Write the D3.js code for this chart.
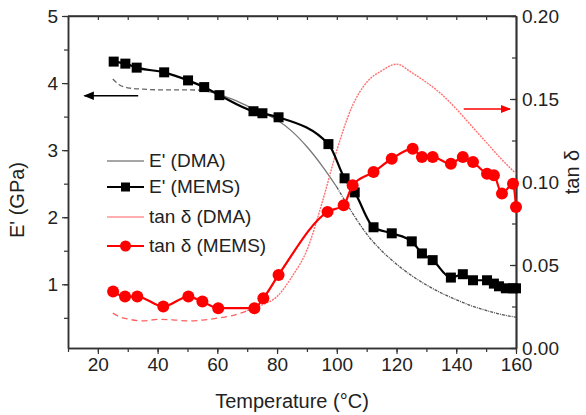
<!DOCTYPE html>
<html>
<head>
<meta charset="utf-8">
<script src="https://cdn.jsdelivr.net/npm/d3@7"></script>
<style>
  body { margin: 0; background: #fff; }
  text { font-family: "Liberation Sans", Arial, sans-serif; fill: #222; }
</style>
</head>
<body>
<div id="chart"></div>
<script>
// E' (MEMS), left axis, GPa
var memsT = [25.3, 29.2, 33.0, 42.2, 50.2, 55.6, 60.7, 72.1, 75.1, 80.5, 97.2, 102.6, 106.0,
             112.3, 118.4, 125.1, 128.5, 132.1, 138.2, 142.2, 145.6, 150.3, 152.6, 154.3, 156.6, 159.0, 160.0];
var memsE = [4.32, 4.29, 4.23, 4.16, 4.04, 3.94, 3.82, 3.58, 3.55, 3.49, 3.09, 2.58, 2.37,
             1.85, 1.76, 1.64, 1.46, 1.36, 1.10, 1.15, 1.06, 1.06, 1.01, 0.97, 0.94, 0.94, 0.94];

// tan delta (MEMS), right axis
var memsTanT = [25.1, 29.1, 33.2, 41.9, 50.3, 55.0, 60.3, 72.4, 75.4, 80.5, 96.9, 102.3, 105.3,
                112.3, 118.4, 125.4, 128.5, 132.1, 138.2, 142.2, 145.6, 150.3, 152.6, 155.3, 159.0, 160.0];
var memsTan = [0.034, 0.031, 0.031, 0.025, 0.031, 0.028, 0.024, 0.024, 0.030, 0.044, 0.082, 0.086, 0.098,
               0.106, 0.114, 0.120, 0.115, 0.115, 0.111, 0.115, 0.112, 0.105, 0.104, 0.093, 0.099, 0.085];

// DMA curves
var dmaT = [25, 27, 30, 35, 40, 45, 50, 55, 60, 65, 70, 75, 80, 85, 90, 95, 100,
            105, 110, 115, 120, 125, 130, 135, 140, 145, 150, 155, 160];
var dmaE = [4.06, 3.98, 3.93, 3.91, 3.90, 3.90, 3.90, 3.89, 3.84, 3.76, 3.66, 3.56, 3.45, 3.28, 3.05, 2.77, 2.45,
            2.08, 1.75, 1.50, 1.30, 1.13, 0.99, 0.87, 0.77, 0.68, 0.61, 0.55, 0.51];
var dmaTan = [0.021, 0.019, 0.0175, 0.0163, 0.0172, 0.0170, 0.0163, 0.0168, 0.0180, 0.0195, 0.0225, 0.026, 0.031,
              0.043, 0.059, 0.087, 0.119, 0.145, 0.160, 0.167, 0.171, 0.166, 0.160, 0.153, 0.144, 0.134,
              0.124, 0.114, 0.105];

var xTicks = [20, 40, 60, 80, 100, 120, 140, 160];
var yLeftTicks = [1, 2, 3, 4, 5];
var yRightTicks = [0, 0.05, 0.10, 0.15, 0.20];

var width = 586, height = 415;
var L = 68, R = 516, T = 16, B = 348;

var svg = d3.select("#chart").append("svg")
    .attr("width", width)
    .attr("height", height);

var x = d3.scaleLinear().domain([10, 160]).range([L, R]);
var yL = d3.scaleLinear().domain([0.05, 5]).range([B, T]);
var yR = d3.scaleLinear().domain([0, 0.2]).range([B, T]);

var zip = function(a, b) { return a.map(function(v, i) { return [v, b[i]]; }); };

// axes
function styleAxis(g) {
  g.select(".domain").attr("stroke", "#333").attr("stroke-width", 1.5);
  g.selectAll(".tick line").attr("stroke", "#333").attr("stroke-width", 1.2);
  g.selectAll("text").style("font-size", "19px").attr("fill", "#222");
}

// minor ticks first (no labels)
svg.append("g").attr("transform", "translate(0," + B + ")")
    .call(d3.axisBottom(x).tickValues(d3.range(10, 161, 10)).tickSize(4).tickFormat("").tickSizeOuter(0))
    .call(styleAxis);
svg.append("g").attr("transform", "translate(0," + T + ")")
    .call(d3.axisBottom(x).tickValues(d3.range(10, 161, 10)).tickSize(4).tickFormat("").tickSizeOuter(0))
    .call(styleAxis);
svg.append("g").attr("transform", "translate(" + L + ",0)")
    .call(d3.axisLeft(yL).tickValues(d3.range(0.5, 5.01, 0.5)).tickSize(4).tickFormat("").tickSizeOuter(0))
    .call(styleAxis);
svg.append("g").attr("transform", "translate(" + R + ",0)")
    .call(d3.axisLeft(yR).tickValues(d3.range(0, 0.201, 0.025)).tickSize(4).tickFormat("").tickSizeOuter(0))
    .call(styleAxis);

// major ticks with labels
svg.append("g").attr("transform", "translate(0," + B + ")")
    .call(d3.axisBottom(x).tickValues(xTicks).tickSize(6).tickPadding(4).tickSizeOuter(0))
    .call(styleAxis);
svg.append("g").attr("transform", "translate(" + L + ",0)")
    .call(d3.axisLeft(yL).tickValues(yLeftTicks).tickFormat(d3.format("d")).tickSize(6).tickPadding(4).tickSizeOuter(0))
    .call(styleAxis);
svg.append("g").attr("transform", "translate(" + R + ",0)")
    .call(d3.axisRight(yR).tickValues(yRightTicks).tickFormat(d3.format(".2f")).tickSize(0).tickPadding(6).tickSizeOuter(0))
    .call(styleAxis);
svg.append("g").attr("transform", "translate(" + R + ",0)")
    .call(d3.axisLeft(yR).tickValues(yRightTicks).tickSize(6).tickFormat("").tickSizeOuter(0))
    .call(styleAxis);
// top border
svg.append("line").attr("x1", L).attr("x2", R).attr("y1", T).attr("y2", T)
    .attr("stroke", "#333").attr("stroke-width", 1.5);

// axis titles
svg.append("text").attr("x", 292).attr("y", 408).attr("text-anchor", "middle")
    .style("font-size", "20px").text("Temperature (°C)");
svg.append("text").attr("transform", "translate(24,200) rotate(-90)").attr("text-anchor", "middle")
    .style("font-size", "20px").text("E' (GPa)");
svg.append("text").attr("transform", "translate(579,172) rotate(-90)").attr("text-anchor", "middle")
    .style("font-size", "20px").text("tan δ");

// E' DMA, drawn in three textures like the dense source data
var lineL = d3.line().x(function(d) { return x(d[0]); }).y(function(d) { return yL(d[1]); }).curve(d3.curveMonotoneX);
var lineR = d3.line().x(function(d) { return x(d[0]); }).y(function(d) { return yR(d[1]); }).curve(d3.curveMonotoneX);

var dmaEPts = zip(dmaT, dmaE);
svg.append("path").attr("d", lineL(dmaEPts.filter(function(d) { return d[0] <= 55; })))
    .attr("fill", "none").attr("stroke", "#666").attr("stroke-width", 1.3).attr("stroke-dasharray", "5,3");
svg.append("path").attr("d", lineL(dmaEPts.filter(function(d) { return d[0] >= 55 && d[0] <= 100; })))
    .attr("fill", "none").attr("stroke", "#777").attr("stroke-width", 1.3);
svg.append("path").attr("d", lineL(dmaEPts.filter(function(d) { return d[0] >= 100; })))
    .attr("fill", "none").attr("stroke", "#555").attr("stroke-width", 1.3).attr("stroke-dasharray", "3,1,1,1");

// tan delta DMA
var dmaTanPts = zip(dmaT, dmaTan);
svg.append("path").attr("d", lineR(dmaTanPts.filter(function(d) { return d[0] <= 70; })))
    .attr("fill", "none").attr("stroke", "#ff6060").attr("stroke-width", 1.3).attr("stroke-dasharray", "6,4");
svg.append("path").attr("d", lineR(dmaTanPts.filter(function(d) { return d[0] >= 70; })))
    .attr("fill", "none").attr("stroke", "#ff7070").attr("stroke-width", 1.4).attr("stroke-dasharray", "2,1");

// E' MEMS
var memsEPts = zip(memsT, memsE);
svg.append("path").attr("d", lineL(memsEPts))
    .attr("fill", "none").attr("stroke", "#000").attr("stroke-width", 2.2);
svg.selectAll(".sq").data(memsEPts).enter().append("rect")
    .attr("x", function(d) { return x(d[0]) - 5; })
    .attr("y", function(d) { return yL(d[1]) - 5; })
    .attr("width", 10).attr("height", 10).attr("fill", "#000");

// tan delta MEMS
var memsTanPts = zip(memsTanT, memsTan);
svg.append("path").attr("d", lineR(memsTanPts))
    .attr("fill", "none").attr("stroke", "#f00").attr("stroke-width", 2.2);
svg.selectAll(".ci").data(memsTanPts).enter().append("circle")
    .attr("cx", function(d) { return x(d[0]); })
    .attr("cy", function(d) { return yR(d[1]); })
    .attr("r", 6).attr("fill", "#f00");

// arrows
var defs = svg.append("defs");
function marker(id, color) {
  defs.append("marker").attr("id", id).attr("viewBox", "0 0 10 10").attr("refX", 9).attr("refY", 5)
    .attr("markerWidth", 7).attr("markerHeight", 7).attr("orient", "auto")
    .append("path").attr("d", "M0,1L10,5L0,9Z").attr("fill", color);
}
marker("ab", "#000");
marker("ar", "#f00");
svg.append("line").attr("x1", x(33.5)).attr("x2", x(15.5)).attr("y1", yL(3.81)).attr("y2", yL(3.81))
    .attr("stroke", "#000").attr("stroke-width", 1.5).attr("marker-end", "url(#ab)");
svg.append("line").attr("x1", x(142.5)).attr("x2", x(158)).attr("y1", yR(0.144)).attr("y2", yR(0.144))
    .attr("stroke", "#f00").attr("stroke-width", 1.5).attr("marker-end", "url(#ar)");

// legend
var legend = [
  { label: "E' (DMA)", color: "#888", w: 1.5, mark: null, y: 161 },
  { label: "E' (MEMS)", color: "#000", w: 2.2, mark: "sq", y: 187 },
  { label: "tan δ (DMA)", color: "#ff6060", w: 1.2, mark: null, y: 217 },
  { label: "tan δ (MEMS)", color: "#f00", w: 2.2, mark: "ci", y: 246 }
];
var lg = svg.append("g");
legend.forEach(function(d) {
  lg.append("line").attr("x1", 107).attr("x2", 144).attr("y1", d.y).attr("y2", d.y)
    .attr("stroke", d.color).attr("stroke-width", d.w);
  if (d.mark === "sq") lg.append("rect").attr("x", 121).attr("y", d.y - 4.5).attr("width", 9).attr("height", 9).attr("fill", "#000");
  if (d.mark === "ci") lg.append("circle").attr("cx", 125.5).attr("cy", d.y).attr("r", 5.5).attr("fill", "#f00");
  lg.append("text").attr("x", 149).attr("y", d.y + 6).style("font-size", "19px").text(d.label);
});
</script>
</body>
</html>
